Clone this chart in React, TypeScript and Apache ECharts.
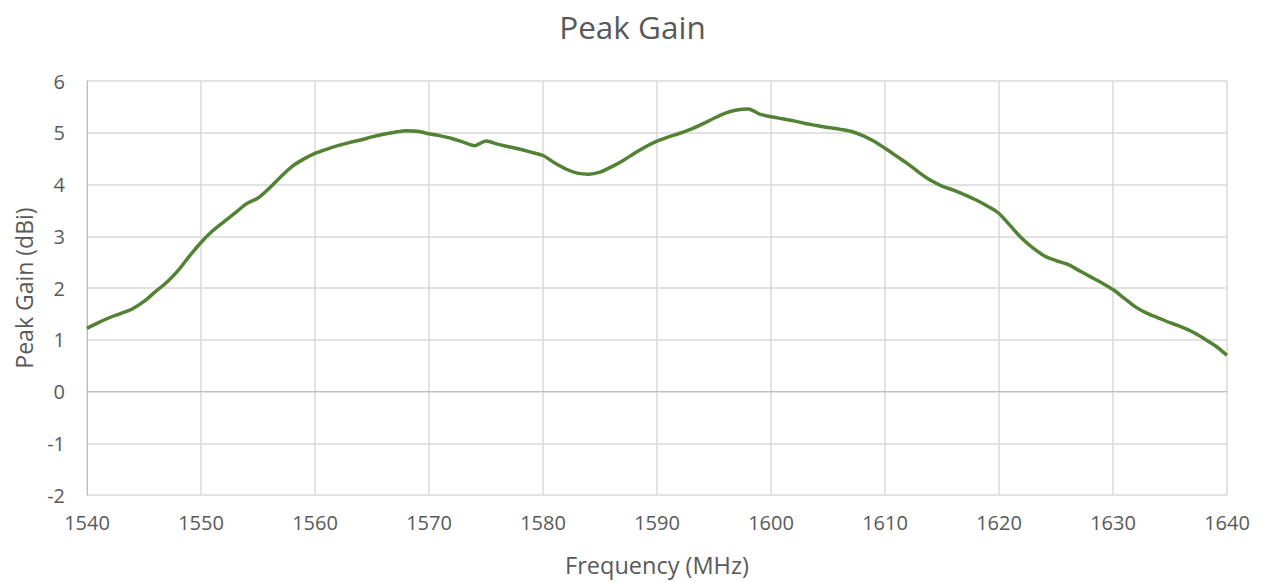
import React, { useEffect, useRef } from "react";
import * as echarts from "echarts";

const frequency: number[] = [
  1540, 1541, 1542, 1543, 1544, 1545, 1546, 1547, 1548, 1549,
  1550, 1551, 1552, 1553, 1554, 1555, 1556, 1557, 1558, 1559,
  1560, 1561, 1562, 1563, 1564, 1565, 1566, 1567, 1568, 1569,
  1570, 1571, 1572, 1573, 1574, 1575, 1576, 1577, 1578, 1579,
  1580, 1581, 1582, 1583, 1584, 1585, 1586, 1587, 1588, 1589,
  1590, 1591, 1592, 1593, 1594, 1595, 1596, 1597, 1598, 1599,
  1600, 1601, 1602, 1603, 1604, 1605, 1606, 1607, 1608, 1609,
  1610, 1611, 1612, 1613, 1614, 1615, 1616, 1617, 1618, 1619,
  1620, 1621, 1622, 1623, 1624, 1625, 1626, 1627, 1628, 1629,
  1630, 1631, 1632, 1633, 1634, 1635, 1636, 1637, 1638, 1639,
  1640,
];

const peakGain: number[] = [
  1.22, 1.33, 1.43, 1.51, 1.6, 1.74, 1.93, 2.11, 2.34, 2.62,
  2.88, 3.1, 3.28, 3.45, 3.63, 3.74, 3.93, 4.15, 4.35, 4.49,
  4.6, 4.68, 4.75, 4.81, 4.86, 4.92, 4.97, 5.01, 5.04, 5.03,
  4.98, 4.94, 4.89, 4.82, 4.75, 4.84, 4.78, 4.73, 4.68, 4.62,
  4.56, 4.42, 4.3, 4.22, 4.2, 4.24, 4.34, 4.46, 4.6, 4.73,
  4.84, 4.92, 4.99, 5.07, 5.17, 5.28, 5.38, 5.44, 5.46, 5.36,
  5.31, 5.27, 5.23, 5.18, 5.14, 5.1, 5.07, 5.03, 4.95, 4.84,
  4.7, 4.55, 4.4, 4.23, 4.08, 3.97, 3.89, 3.8, 3.7, 3.58,
  3.44, 3.2, 2.96, 2.77, 2.62, 2.53, 2.46, 2.34, 2.22, 2.1,
  1.97, 1.8, 1.63, 1.51, 1.42, 1.33, 1.25, 1.15, 1.02, 0.88,
  0.7,
];

const titleText = "Peak Gain";
const xAxisName = "Frequency (MHz)";
const yAxisName = "Peak Gain (dBi)";

export default function App() {
  const ref = useRef<HTMLDivElement>(null);

  useEffect(() => {
    if (!ref.current) return;
    const chart = echarts.init(ref.current, null, { renderer: "svg" });
    const font = "'Open Sans', sans-serif";
    const textColor = "#595959";
    chart.setOption({
      animation: false,
      backgroundColor: "#ffffff",
      title: {
        text: titleText,
        left: "center",
        top: 5,
        textStyle: {
          fontFamily: font,
          fontSize: 31.5,
          fontWeight: "normal",
          color: textColor,
        },
      },
      grid: {
        left: 87,
        right: 38,
        top: 81,
        bottom: 87,
        containLabel: false,
      },
      xAxis: {
        type: "value",
        min: 1540,
        max: 1640,
        interval: 10,
        name: xAxisName,
        nameLocation: "middle",
        nameGap: 58,
        nameTextStyle: { fontFamily: font, fontSize: 23.5, color: textColor },
        axisLine: { show: true, lineStyle: { color: "#bfbfbf", width: 1 } },
        axisTick: { show: false },
        axisLabel: {
          fontFamily: font,
          fontSize: 20,
          color: textColor,
          margin: 17,
          formatter: (v: number) => String(v),
        },
        splitLine: { show: true, lineStyle: { color: "#d9d9d9", width: 1.5 } },
      },
      yAxis: {
        type: "value",
        min: -2,
        max: 6,
        interval: 1,
        name: yAxisName,
        nameLocation: "middle",
        nameGap: 52,
        nameTextStyle: { fontFamily: font, fontSize: 23, color: textColor },
        axisLine: { show: true, lineStyle: { color: "#bfbfbf", width: 1 } },
        axisTick: { show: false },
        axisLabel: {
          fontFamily: font,
          fontSize: 20,
          color: textColor,
          margin: 22,
        },
        splitLine: { show: true, lineStyle: { color: "#d9d9d9", width: 1.5 } },
      },
      series: [
        {
          type: "line",
          data: frequency.map((f, i) => [f, peakGain[i]]),
          smooth: 0.3,
          showSymbol: false,
          lineStyle: { color: "#548235", width: 3.5 },
          itemStyle: { color: "#548235" },
        },
      ],
    });
    return () => chart.dispose();
  }, []);

  return (
    <div
      ref={ref}
      style={{ position: "fixed", left: 0, top: 0, width: 1265, height: 582, background: "#fff" }}
    />
  );
}
